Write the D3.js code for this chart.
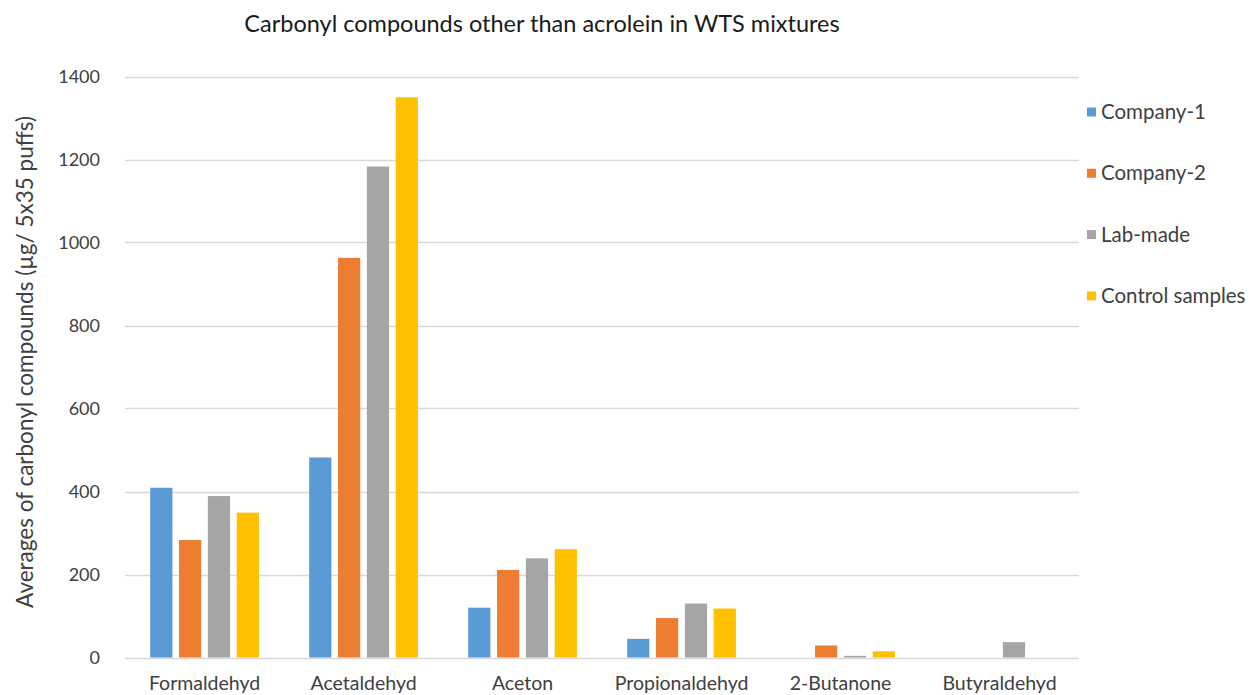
<!DOCTYPE html>
<html>
<head>
<meta charset="utf-8">
<script src="https://cdn.jsdelivr.net/npm/d3@7"></script>
<style>
  body { margin: 0; background: #fff; }
  text { font-family: Lato, "Open Sans", sans-serif; fill: #404040; }
</style>
</head>
<body>
<div id="chart"></div>
<script>
var categories = ["Formaldehyd", "Acetaldehyd", "Aceton", "Propionaldehyd", "2-Butanone", "Butyraldehyd"];
var seriesNames = ["Company-1", "Company-2", "Lab-made", "Control samples"];
var company1 = [409, 482, 120, 45, 0, 0];
var company2 = [283, 963, 211, 95, 29, 0];
var labMade = [389, 1183, 239, 130, 4, 37];
var control = [349, 1350, 261, 118, 15, 0];
var yTicks = [0, 200, 400, 600, 800, 1000, 1200, 1400];
var colors = ["#5B9BD5", "#ED7D31", "#A5A5A5", "#FFC000"];

var series = [company1, company2, labMade, control];

var width = 1255, height = 695;
var plotLeft = 125, plotRight = 1079, plotTop = 76.5, plotBottom = 657.5;

var svg = d3.select("#chart").append("svg")
    .attr("width", width)
    .attr("height", height);

var x0 = d3.scaleBand().domain(categories).range([plotLeft, plotRight]).padding(0);
var x1 = d3.scaleBand().domain(d3.range(4))
    .range([25.2, 133.9]).paddingInner(0.23).paddingOuter(0);
var y = d3.scaleLinear().domain([0, 1400]).range([plotBottom, plotTop]);

// grid lines
svg.append("g").selectAll("line")
    .data(yTicks)
    .enter().append("line")
    .attr("x1", plotLeft).attr("x2", plotRight)
    .attr("y1", function(d){ return Math.round(y(d)) + 0.5; })
    .attr("y2", function(d){ return Math.round(y(d)) + 0.5; })
    .attr("stroke", "#d9d9d9")
    .attr("stroke-width", 1.3);

// y axis labels
var yAxis = d3.axisLeft(y).tickValues(yTicks).tickSize(0).tickPadding(25).tickFormat(d3.format("d"));
var ya = svg.append("g").attr("transform", "translate(" + plotLeft + ",0)").call(yAxis);
ya.select(".domain").remove();
ya.selectAll("text").style("font-size", "18px").attr("fill", "#404040")
    .style("font-family", "Lato, sans-serif");

// bars
var groups = svg.append("g").selectAll("g")
    .data(categories)
    .enter().append("g")
    .attr("transform", function(d){ return "translate(" + x0(d) + ",0)"; });

groups.selectAll("rect")
    .data(function(d, i){ return series.map(function(s, k){ return {k: k, v: s[i]}; }); })
    .enter().append("rect")
    .attr("x", function(d){ return x1(d.k); })
    .attr("width", x1.bandwidth())
    .attr("y", function(d){ return y(d.v); })
    .attr("height", function(d){ return y(0) - y(d.v); })
    .attr("fill", function(d){ return colors[d.k]; });

// x labels
var xAxis = d3.axisBottom(x0).tickSize(0).tickPadding(19);
var xa = svg.append("g").attr("transform", "translate(0," + plotBottom + ")").call(xAxis);
xa.select(".domain").remove();
xa.selectAll("text").style("font-size", "19.5px").attr("fill", "#404040")
    .style("font-family", "Lato, sans-serif");

// title
svg.append("text")
    .attr("x", 542).attr("y", 32)
    .attr("text-anchor", "middle")
    .style("font-size", "23.5px")
    .style("fill", "#1a1a1a")
    .text("Carbonyl compounds other than acrolein in WTS mixtures");

// y title
svg.append("text")
    .attr("transform", "translate(33,362) rotate(-90)")
    .attr("text-anchor", "middle")
    .style("font-size", "22.5px")
    .text("Averages of carbonyl compounds (µg/ 5x35 puffs)");

// legend
var legend = svg.append("g").selectAll("g")
    .data(seriesNames)
    .enter().append("g")
    .attr("transform", function(d, i){ return "translate(1087," + (112 + i * 61.3) + ")"; });

legend.append("rect")
    .attr("x", 0).attr("y", -4.5)
    .attr("width", 9).attr("height", 9)
    .attr("fill", function(d, i){ return colors[i]; });

legend.append("text")
    .attr("x", 14).attr("y", 7)
    .style("font-size", "20.5px")
    .text(function(d){ return d; });
</script>
</body>
</html>
